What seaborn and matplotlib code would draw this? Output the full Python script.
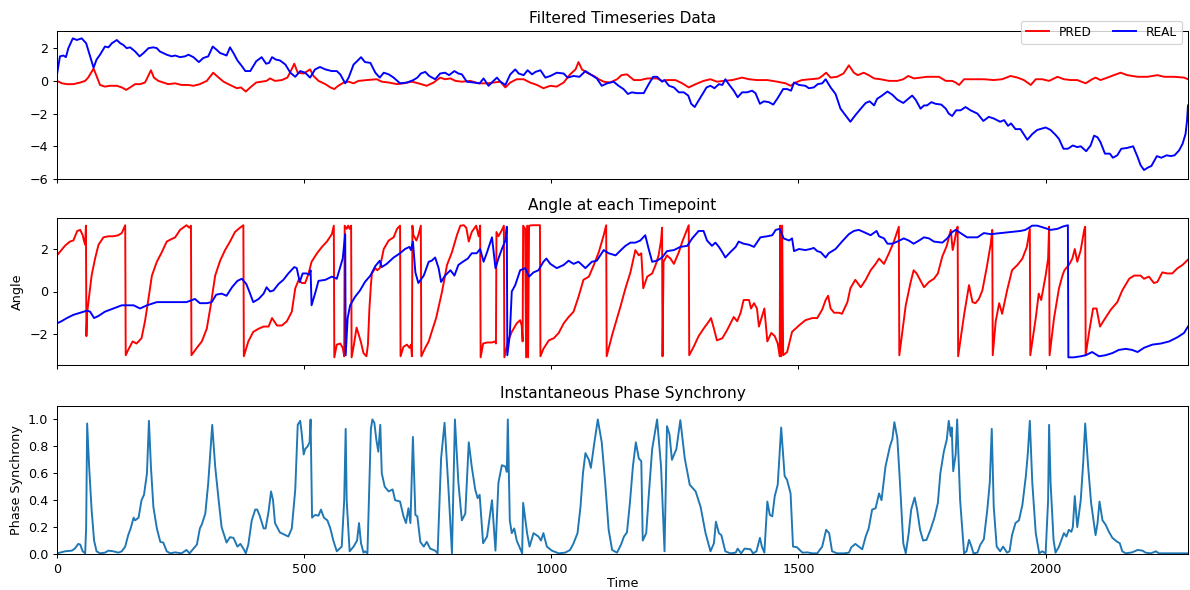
import matplotlib
matplotlib.use("Agg")
import matplotlib.pyplot as plt
import seaborn as sns
import pandas as pd

# (time, value) samples of each series
pred_filtered = [
    (0, 0.0), (10, -0.15), (20, -0.2), (33, -0.2), (47, -0.1), (57, 0.0), (63, 0.2), (74, 0.75), (80, 0.3),
    (87, -0.25), (97, -0.35), (107, -0.3), (121, -0.3), (131, -0.4), (140, -0.55), (148, -0.4), (158, -0.2),
    (168, -0.2), (178, -0.1), (183, 0.2), (190, 0.65), (196, 0.2), (205, 0.0), (215, -0.1), (225, -0.2),
    (239, -0.15), (252, -0.25), (266, -0.25), (276, -0.3), (289, -0.2), (303, 0.0), (316, 0.5), (327, 0.2),
    (337, -0.05), (350, -0.25), (364, -0.45), (372, -0.4), (382, -0.65), (391, -0.4), (403, -0.1), (414, -0.05),
    (424, 0.0), (431, 0.15), (441, 0.0), (455, 0.05), (466, 0.2), (473, 0.6), (480, 1.05), (487, 0.5),
    (499, 0.45), (512, 0.7), (519, 0.3), (529, 0.0), (543, -0.2), (553, -0.4), (561, -0.5), (569, -0.3),
    (580, -0.1), (590, -0.05), (600, -0.15), (610, 0.0), (627, 0.05), (647, 0.1), (657, -0.05), (671, -0.1),
    (688, -0.2), (701, -0.15), (718, -0.05), (731, -0.15), (748, -0.3), (762, -0.1), (775, 0.2), (785, 0.1),
    (796, 0.15), (806, 0.0), (819, -0.05), (836, 0.0), (853, -0.15), (870, -0.15), (883, -0.1), (897, -0.05),
    (907, -0.4), (917, -0.1), (930, 0.1), (944, 0.1), (957, -0.1), (971, -0.25), (984, -0.45), (998, -0.3),
    (1011, -0.35), (1025, -0.1), (1038, 0.4), (1049, 0.7), (1055, 1.15), (1062, 0.7), (1072, 0.5), (1086, 0.3),
    (1096, 0.1), (1106, -0.05), (1119, -0.1), (1133, 0.1), (1142, 0.35), (1153, 0.4), (1167, 0.05), (1180, 0.05),
    (1194, 0.15), (1214, 0.15), (1224, 0.0), (1234, 0.05), (1251, 0.05), (1265, -0.15), (1278, -0.4), (1292, -0.2),
    (1308, 0.0), (1322, 0.1), (1335, -0.05), (1349, 0.0), (1366, 0.05), (1386, 0.2), (1400, 0.1), (1416, 0.05),
    (1437, 0.05), (1457, -0.05), (1474, -0.15), (1484, -0.3), (1494, -0.1), (1507, 0.05), (1524, 0.1), (1541, 0.15),
    (1548, 0.3), (1556, 0.5), (1565, 0.2), (1578, 0.25), (1591, 0.45), (1602, 0.95), (1612, 0.5), (1620, 0.35),
    (1632, 0.5), (1642, 0.35), (1653, 0.15), (1666, 0.1), (1683, 0.0), (1700, 0.0), (1712, 0.1), (1722, 0.3),
    (1734, 0.15), (1747, 0.2), (1760, 0.25), (1784, 0.25), (1798, 0.0), (1811, 0.0), (1818, -0.1), (1825, -0.25),
    (1835, 0.1), (1855, 0.1), (1875, 0.1), (1895, 0.05), (1912, 0.1), (1929, 0.3), (1943, 0.2), (1956, 0.05),
    (1970, -0.25), (1980, 0.1), (1993, 0.1), (2007, 0.0), (2024, 0.25), (2037, 0.1), (2051, 0.05), (2064, 0.05),
    (2081, -0.15), (2094, 0.1), (2101, 0.2), (2111, 0.05), (2125, 0.2), (2138, 0.35), (2152, 0.5), (2165, 0.35),
    (2186, 0.25), (2206, 0.25), (2226, 0.35), (2240, 0.25), (2260, 0.25), (2280, 0.2), (2288, 0.1),
]

real_filtered = [
    (0, 0.4), (6, 1.5), (13, 1.55), (18, 1.45), (23, 2.0), (32, 2.6), (40, 2.5), (50, 2.6), (59, 2.3), (67, 1.5),
    (74, 0.8), (80, 1.3), (87, 1.6), (97, 2.1), (104, 2.05), (111, 2.3), (121, 2.5), (128, 2.3), (134, 2.2),
    (141, 2.0), (148, 2.05), (158, 1.8), (167, 1.5), (175, 1.7), (185, 2.0), (195, 2.05), (202, 2.0), (208, 1.8),
    (222, 1.6), (232, 1.5), (239, 1.55), (249, 1.45), (259, 1.5), (266, 1.6), (276, 1.45), (287, 1.15), (296, 1.4),
    (306, 1.5), (315, 2.1), (323, 1.9), (330, 1.7), (335, 1.65), (343, 1.55), (350, 2.05), (357, 1.7), (365, 1.25),
    (374, 0.9), (381, 0.6), (391, 0.6), (403, 1.2), (414, 1.45), (423, 1.05), (429, 1.1), (435, 1.45), (443, 1.3),
    (451, 1.25), (462, 1.0), (472, 0.5), (482, 0.25), (492, 0.6), (502, 0.5), (512, 0.2), (522, 0.7), (532, 0.85),
    (543, 0.7), (556, 0.6), (566, 0.6), (573, 0.4), (583, -0.15), (590, 0.2), (600, 1.0), (607, 1.2), (615, 1.45),
    (623, 1.15), (634, 1.1), (644, 0.5), (653, 0.2), (661, 0.5), (671, 0.4), (681, 0.2), (694, -0.15), (708, -0.1),
    (721, 0.05), (729, 0.2), (736, 0.45), (745, 0.55), (753, 0.3), (765, 0.1), (775, 0.45), (785, 0.5), (793, 0.35),
    (804, 0.6), (812, 0.45), (819, 0.4), (829, -0.05), (843, -0.1), (855, -0.15), (863, 0.15), (873, -0.3),
    (883, 0.0), (890, 0.2), (897, -0.05), (907, -0.25), (917, 0.4), (927, 0.7), (934, 0.45), (944, 0.35),
    (952, 0.65), (961, 0.4), (968, 0.55), (978, 0.65), (988, 0.2), (998, 0.3), (1011, 0.5), (1025, 0.45),
    (1033, 0.2), (1045, 0.3), (1057, 0.25), (1069, 0.6), (1079, 0.4), (1092, 0.15), (1102, -0.3), (1113, -0.15),
    (1126, -0.05), (1136, -0.3), (1146, -0.5), (1155, -0.8), (1163, -0.7), (1173, -0.75), (1187, -0.75),
    (1197, -0.2), (1206, 0.25), (1214, 0.25), (1224, -0.05), (1229, 0.05), (1238, -0.3), (1248, -0.4),
    (1258, -0.7), (1268, -0.7), (1277, -0.9), (1283, -1.4), (1290, -1.6), (1302, -1.0), (1314, -0.4),
    (1322, -0.3), (1330, -0.45), (1339, -0.2), (1346, -0.25), (1352, 0.1), (1359, -0.2), (1369, -0.6),
    (1377, -1.0), (1386, -0.7), (1396, -0.7), (1406, -0.6), (1413, -0.75), (1422, -1.4), (1430, -1.25),
    (1440, -1.3), (1449, -1.45), (1458, -1.05), (1469, -0.5), (1477, -0.5), (1485, -0.6), (1491, -0.1),
    (1501, -0.25), (1514, -0.3), (1521, -0.45), (1531, -0.4), (1539, -0.2), (1548, -0.15), (1555, 0.1),
    (1565, -0.4), (1575, -0.8), (1585, -1.7), (1595, -2.1), (1605, -2.5), (1615, -2.1), (1626, -1.7),
    (1636, -1.35), (1644, -1.25), (1653, -1.5), (1659, -1.1), (1669, -0.9), (1680, -0.65), (1690, -0.85),
    (1700, -1.15), (1712, -1.35), (1720, -1.15), (1730, -0.9), (1737, -1.15), (1747, -1.7), (1754, -1.5),
    (1760, -1.5), (1769, -1.3), (1777, -1.4), (1789, -1.45), (1798, -1.7), (1804, -2.0), (1811, -2.15),
    (1819, -1.8), (1828, -1.8), (1838, -1.6), (1848, -1.8), (1862, -2.0), (1874, -2.45), (1885, -2.2),
    (1895, -2.3), (1908, -2.5), (1916, -2.4), (1924, -2.75), (1930, -2.6), (1939, -2.95), (1949, -2.95),
    (1963, -3.6), (1973, -3.25), (1983, -3.0), (2000, -2.85), (2010, -3.0), (2020, -3.3), (2027, -3.55),
    (2036, -4.15), (2045, -4.15), (2055, -3.95), (2064, -4.05), (2071, -4.0), (2082, -4.3), (2091, -3.95),
    (2098, -3.35), (2105, -3.45), (2111, -3.75), (2120, -4.45), (2130, -4.45), (2136, -4.7), (2145, -4.55),
    (2153, -4.15), (2165, -4.1), (2177, -4.0), (2186, -4.65), (2192, -5.15), (2199, -5.45), (2207, -5.3),
    (2214, -5.2), (2225, -4.6), (2234, -4.7), (2245, -4.55), (2253, -4.6), (2261, -4.55), (2270, -4.25),
    (2277, -3.85), (2283, -3.25), (2286, -2.45), (2288, -1.5),
]

pred_angle = [
    (0, 1.7), (9, 1.95), (16, 2.15), (26, 2.35), (33, 2.4), (41, 2.85), (47, 2.9), (52, 2.65), (55, 2.35),
    (57, 2.2), (58.5, 3.1), (59.5, -2.1), (61, -1.0), (70, 0.75), (77, 1.55), (84, 2.2), (94, 2.55), (104, 2.6),
    (114, 2.6), (124, 2.65), (131, 2.75), (138, 3.12), (139, -3.0), (144, -2.75), (153, -2.35), (161, -2.45),
    (171, -2.2), (178, -1.4), (185, -0.35), (192, 0.75), (202, 1.4), (212, 1.85), (222, 2.35), (230, 2.45),
    (239, 2.55), (249, 2.9), (262, 3.12), (268, 3.0), (271, 3.1), (272, -3.0), (283, -2.65), (293, -2.35),
    (303, -1.75), (311, -0.65), (320, 0.75), (330, 1.45), (340, 1.95), (350, 2.35), (360, 2.8), (370, 3.0),
    (377, 3.12), (378, -3.05), (387, -2.35), (397, -1.9), (408, -1.75), (418, -1.65), (428, -1.65), (435, -1.25),
    (445, -1.6), (455, -1.6), (465, -1.4), (475, -0.95), (482, 0.15), (489, 0.55), (495, 0.4), (502, 0.4),
    (509, 0.85), (515, 1.4), (526, 1.8), (536, 2.1), (546, 2.35), (556, 2.7), (560, 3.1), (561, -3.1),
    (566, -2.5), (573, -2.45), (578, -2.65), (581, -3.05), (582, 3.1), (586, 2.95), (589, 3.1), (592, 2.95),
    (595, 3.1), (596, -3.1), (600, -2.6), (606, -1.7), (610, -2.0), (615, -2.4), (620, -2.9), (626, -3.05),
    (629, -2.5), (632, -0.8), (635, 0.3), (637, 0.85), (644, 1.1), (648, 1.0), (653, 1.1), (661, 2.0),
    (671, 2.4), (681, 2.55), (688, 2.95), (694, 3.1), (695, -3.05), (701, -2.6), (708, -2.5), (713, -2.65),
    (716, -2.5), (718, -3.05), (719, 3.1), (721, 2.65), (727, 2.4), (731, 2.65), (736, 3.1), (737, -3.05),
    (745, -2.65), (752, -2.35), (758, -1.9), (767, -1.25), (779, 0.0), (789, 1.25), (799, 1.85), (809, 2.65),
    (816, 3.1), (823, 3.12), (828, 3.0), (833, 2.35), (839, 2.8), (848, 3.1), (853, 2.6), (856, 3.1),
    (857, -3.1), (862, -2.45), (870, -2.4), (880, -2.4), (886, -2.35), (888, -2.45), (889, 2.8), (893, 2.6),
    (899, 2.85), (904, 3.1), (905, -3.1), (913, -2.3), (920, -1.9), (930, -1.5), (937, -1.35), (940, -1.6),
    (942, -2.35), (943, 3.1), (947, 2.95), (949, -3.1), (951, 3.1), (953, -3.1), (955, 3.1), (962, 3.12),
    (970, 3.12), (977, 3.12), (978, -3.05), (984, -2.7), (995, -2.3), (1005, -2.2), (1015, -1.95),
    (1025, -1.5), (1035, -1.2), (1045, -0.95), (1055, -0.25), (1065, 0.55), (1076, 0.7), (1086, 1.25),
    (1096, 1.85), (1106, 2.65), (1111, 3.12), (1112, -3.05), (1123, -2.05), (1133, -1.25), (1140, -0.7),
    (1150, 0.15), (1160, 0.9), (1170, 1.95), (1177, 1.7), (1182, 1.8), (1186, 0.15), (1194, 0.7), (1204, 0.85),
    (1211, 1.25), (1217, 1.7), (1222, 2.4), (1224, 3.0), (1225, -3.05), (1227, 1.4), (1234, 1.7), (1241, 1.55),
    (1248, 1.3), (1258, 1.85), (1265, 2.35), (1271, 2.7), (1278, 3.12), (1279, -3.0), (1288, -2.6),
    (1298, -2.1), (1308, -1.75), (1319, -1.4), (1323, -1.25), (1329, -1.75), (1335, -2.3), (1346, -2.2),
    (1356, -1.8), (1369, -1.2), (1376, -1.4), (1383, -1.0), (1389, -0.4), (1400, -0.4), (1404, -0.8),
    (1410, -0.55), (1416, -0.8), (1420, -1.65), (1427, -1.1), (1431, -0.8), (1437, -2.35), (1445, -1.95),
    (1452, -2.1), (1458, -2.45), (1462, -3.05), (1463, 3.1), (1465, -3.05), (1467, 3.1), (1469, -3.0),
    (1477, -2.85), (1487, -1.9), (1501, -1.6), (1514, -1.35), (1528, -1.25), (1538, -1.25), (1548, -0.85),
    (1555, -0.4), (1560, -0.2), (1565, -0.8), (1572, -1.0), (1582, -1.0), (1588, -1.05), (1599, -0.5),
    (1605, 0.15), (1615, 0.55), (1626, 0.2), (1636, 0.55), (1646, 1.0), (1656, 1.3), (1663, 1.55), (1673, 1.3),
    (1683, 1.8), (1693, 2.35), (1703, 3.05), (1704, -3.0), (1710, -1.9), (1717, -0.65), (1727, 0.45),
    (1733, 1.0), (1739, 0.85), (1746, 0.55), (1754, 0.2), (1764, 0.45), (1774, 0.6), (1782, 0.85), (1791, 1.65),
    (1800, 2.15), (1808, 2.9), (1812, 1.95), (1816, 2.4), (1820, 2.95), (1822, 3.05), (1823, -3.05),
    (1835, -1.1), (1845, 0.3), (1852, -0.5), (1858, -0.55), (1865, -0.35), (1872, 0.05), (1881, 1.15),
    (1889, 2.25), (1892, 2.9), (1893, -3.0), (1899, -1.4), (1906, -0.55), (1912, -1.05), (1922, 0.05),
    (1932, 1.0), (1943, 1.25), (1953, 1.55), (1962, 2.1), (1968, 2.95), (1969, -3.0), (1980, -1.25),
    (1986, -0.1), (1991, -0.4), (2000, 0.75), (2005, 1.55), (2007, 3.05), (2008, -3.0), (2017, -1.25),
    (2027, 0.15), (2034, 0.75), (2038, 1.0), (2047, 1.25), (2054, 1.55), (2059, 2.0), (2064, 1.4), (2071, 1.95),
    (2078, 2.9), (2080, 3.05), (2081, -3.0), (2088, -1.9), (2096, -0.8), (2103, -0.8), (2110, -1.65),
    (2118, -1.35), (2132, -0.85), (2145, -0.5), (2155, 0.05), (2169, 0.6), (2179, 0.75), (2192, 0.75),
    (2199, 0.6), (2209, 0.7), (2219, 0.4), (2226, 0.45), (2236, 0.9), (2246, 0.85), (2256, 0.85), (2267, 1.1),
    (2277, 1.25), (2288, 1.5),
]

real_angle = [
    (0, -1.5), (9, -1.4), (20, -1.25), (33, -1.1), (47, -1.0), (61, -0.9), (67, -0.95), (75, -1.25), (84, -1.15),
    (97, -0.95), (114, -0.8), (131, -0.65), (141, -0.65), (155, -0.65), (168, -0.8), (182, -0.65), (202, -0.5),
    (222, -0.5), (242, -0.5), (262, -0.5), (279, -0.35), (289, -0.55), (303, -0.55), (313, -0.5), (322, -0.15),
    (333, -0.1), (343, -0.2), (354, 0.2), (365, 0.5), (374, 0.6), (383, 0.35), (389, 0.0), (397, -0.5),
    (408, -0.35), (418, -0.1), (424, 0.2), (431, 0.0), (438, 0.05), (448, 0.35), (458, 0.55), (468, 0.85),
    (480, 1.15), (485, 1.1), (491, 0.45), (497, 0.85), (505, 0.85), (511, 0.8), (513, 1.0), (515, -0.65),
    (522, -0.1), (529, 0.5), (543, 0.55), (556, 0.7), (566, 0.6), (571, 1.0), (578, 1.55), (583, 2.7),
    (584, -3.0), (588, -1.25), (593, -0.65), (603, -0.25), (613, 0.05), (623, 0.45), (634, 0.75), (644, 1.2),
    (653, 1.45), (657, 1.15), (667, 1.3), (681, 1.6), (694, 1.8), (704, 2.0), (713, 2.1), (716, 1.95),
    (720, 2.35), (725, 0.9), (731, 0.4), (742, 0.75), (752, 1.4), (758, 1.45), (765, 1.6), (772, 1.1),
    (777, 0.45), (785, 0.75), (796, 1.0), (804, 0.75), (812, 1.25), (821, 1.4), (831, 1.55), (839, 1.8),
    (849, 1.8), (856, 2.0), (863, 1.4), (870, 1.85), (880, 2.55), (887, 1.1), (893, 1.55), (900, 2.0),
    (907, 2.4), (910, 3.05), (911, -3.0), (916, -2.05), (920, 0.0), (927, 0.3), (937, 1.0), (947, 1.1),
    (955, 0.7), (964, 0.9), (974, 1.0), (984, 1.4), (990, 1.55), (998, 1.3), (1011, 1.1), (1025, 1.25),
    (1035, 1.45), (1045, 1.3), (1055, 1.4), (1069, 1.1), (1082, 1.4), (1092, 1.45), (1106, 1.95), (1116, 1.8),
    (1130, 1.7), (1143, 2.0), (1150, 2.15), (1160, 2.3), (1170, 2.3), (1180, 2.4), (1190, 2.65), (1197, 2.0),
    (1204, 1.4), (1214, 1.45), (1224, 1.6), (1234, 1.9), (1248, 1.95), (1261, 2.1), (1275, 2.15), (1285, 2.5),
    (1298, 2.85), (1308, 2.85), (1315, 2.4), (1325, 2.15), (1332, 2.3), (1339, 2.1), (1346, 1.85), (1352, 1.6),
    (1362, 1.85), (1373, 2.1), (1379, 2.35), (1389, 2.25), (1400, 2.2), (1410, 2.1), (1423, 2.55), (1437, 2.6),
    (1447, 2.65), (1454, 2.9), (1462, 2.95), (1470, 2.5), (1481, 2.4), (1487, 2.5), (1491, 1.9), (1501, 2.0),
    (1514, 1.95), (1524, 2.0), (1531, 2.05), (1538, 1.9), (1545, 1.85), (1555, 1.6), (1561, 1.8), (1575, 2.0),
    (1588, 2.35), (1602, 2.7), (1612, 2.85), (1622, 2.9), (1632, 2.8), (1646, 2.65), (1658, 2.85), (1663, 2.6),
    (1673, 2.5), (1680, 2.25), (1690, 2.25), (1700, 2.35), (1713, 2.5), (1723, 2.4), (1733, 2.25), (1744, 2.4),
    (1754, 2.55), (1764, 2.5), (1774, 2.35), (1791, 2.3), (1801, 2.5), (1811, 2.8), (1818, 2.9), (1828, 2.75),
    (1841, 2.55), (1862, 2.55), (1875, 2.75), (1889, 2.7), (1909, 2.75), (1929, 2.8), (1949, 2.85), (1959, 2.9),
    (1973, 3.1), (1983, 3.1), (1997, 3.0), (2010, 2.9), (2024, 2.95), (2034, 3.05), (2045, 3.12), (2046, -3.1),
    (2057, -3.1), (2071, -3.05), (2081, -3.0), (2094, -2.85), (2108, -3.05), (2121, -3.0), (2135, -2.9),
    (2148, -2.75), (2162, -2.7), (2175, -2.75), (2186, -2.85), (2199, -2.65), (2216, -2.5), (2233, -2.45),
    (2250, -2.35), (2267, -2.15), (2280, -1.95), (2288, -1.65),
]

phase_synchrony = [
    (0, 0.005), (6, 0.01), (16, 0.02), (30, 0.025), (36, 0.04), (43, 0.075), (47, 0.07), (52, 0.02), (57, 0.005),
    (59, 0.2), (61, 0.97), (65, 0.65), (70, 0.33), (75, 0.1), (80, 0.02), (87, 0.005), (97, 0.01), (104, 0.025),
    (114, 0.02), (124, 0.01), (131, 0.02), (138, 0.055), (144, 0.14), (149, 0.19), (155, 0.27), (158, 0.25),
    (165, 0.27), (171, 0.4), (176, 0.44), (182, 0.6), (186, 0.99), (190, 0.65), (195, 0.35), (202, 0.19),
    (209, 0.09), (215, 0.085), (222, 0.02), (229, 0.005), (239, 0.012), (252, 0.005), (262, 0.03), (268, 0.005),
    (275, 0.035), (283, 0.07), (289, 0.19), (293, 0.22), (300, 0.3), (306, 0.53), (314, 0.96), (320, 0.65),
    (327, 0.4), (333, 0.2), (343, 0.085), (350, 0.125), (357, 0.12), (365, 0.055), (371, 0.075), (377, 0.04),
    (382, 0.005), (387, 0.07), (394, 0.25), (401, 0.33), (405, 0.33), (410, 0.285), (418, 0.19), (422, 0.19),
    (428, 0.315), (433, 0.465), (437, 0.4), (441, 0.23), (451, 0.16), (462, 0.14), (468, 0.13), (475, 0.19),
    (482, 0.48), (487, 0.96), (492, 0.99), (495, 0.9), (499, 0.74), (502, 0.78), (507, 0.8), (511, 0.83),
    (513, 1.0), (516, 0.27), (522, 0.29), (529, 0.285), (534, 0.33), (540, 0.27), (547, 0.25), (553, 0.19),
    (559, 0.1), (566, 0.02), (576, 0.055), (581, 0.4), (584, 0.93), (586, 0.4), (592, 0.02), (600, 0.055),
    (607, 0.1), (611, 0.23), (615, 0.08), (620, 0.01), (623, 0.02), (628, 0.005), (632, 0.53), (635, 0.93),
    (638, 1.0), (642, 0.975), (646, 0.85), (650, 0.76), (654, 0.96), (657, 0.6), (663, 0.5), (671, 0.465),
    (679, 0.48), (684, 0.4), (694, 0.39), (701, 0.28), (706, 0.23), (711, 0.34), (715, 0.23), (720, 0.87),
    (725, 0.29), (729, 0.28), (735, 0.09), (742, 0.055), (748, 0.09), (755, 0.04), (765, 0.025), (770, 0.005),
    (777, 0.71), (784, 0.975), (792, 0.48), (799, 0.005), (805, 1.0), (812, 0.53), (819, 0.25), (826, 0.3),
    (833, 0.83), (839, 0.65), (846, 0.48), (851, 0.415), (855, 0.44), (862, 0.08), (870, 0.13), (880, 0.4),
    (887, 0.025), (893, 0.53), (900, 0.66), (907, 0.65), (910, 0.61), (912, 1.0), (916, 0.25), (920, 0.155),
    (925, 0.19), (930, 0.1), (937, 0.04), (941, 0.005), (943, 0.38), (951, 0.155), (956, 0.055), (964, 0.155),
    (974, 0.13), (979, 0.1), (984, 0.155), (991, 0.055), (1001, 0.025), (1015, 0.005), (1028, 0.01),
    (1038, 0.03), (1045, 0.08), (1053, 0.155), (1059, 0.35), (1064, 0.6), (1069, 0.75), (1076, 0.7),
    (1080, 0.64), (1086, 0.8), (1094, 1.0), (1102, 0.83), (1109, 0.53), (1116, 0.18), (1123, 0.03),
    (1133, 0.01), (1141, 0.07), (1147, 0.13), (1153, 0.16), (1159, 0.38), (1165, 0.65), (1171, 0.83),
    (1177, 0.71), (1182, 0.69), (1185, 0.1), (1192, 0.155), (1197, 0.43), (1204, 0.78), (1214, 1.0),
    (1222, 0.65), (1229, 0.02), (1234, 0.95), (1239, 0.89), (1244, 0.7), (1253, 0.78), (1261, 0.995),
    (1270, 0.71), (1280, 0.515), (1292, 0.465), (1302, 0.35), (1312, 0.155), (1322, 0.02), (1329, 0.08),
    (1333, 0.24), (1339, 0.155), (1344, 0.14), (1352, 0.02), (1362, 0.005), (1373, 0.01), (1377, 0.04),
    (1384, 0.005), (1391, 0.04), (1403, 0.035), (1408, 0.005), (1415, 0.02), (1422, 0.12), (1426, 0.055),
    (1431, 0.01), (1437, 0.39), (1442, 0.29), (1447, 0.28), (1452, 0.43), (1458, 0.515), (1465, 0.94),
    (1472, 0.58), (1477, 0.55), (1484, 0.45), (1489, 0.055), (1497, 0.05), (1508, 0.01), (1518, 0.012),
    (1528, 0.005), (1538, 0.005), (1548, 0.055), (1556, 0.18), (1562, 0.155), (1568, 0.02), (1578, 0.005),
    (1592, 0.005), (1602, 0.01), (1607, 0.05), (1615, 0.075), (1622, 0.055), (1629, 0.035), (1636, 0.13),
    (1642, 0.19), (1649, 0.33), (1656, 0.34), (1663, 0.45), (1668, 0.4), (1676, 0.65), (1685, 0.8),
    (1690, 0.855), (1694, 0.98), (1700, 0.86), (1705, 0.55), (1712, 0.08), (1717, 0.005), (1723, 0.155),
    (1728, 0.33), (1735, 0.42), (1740, 0.33), (1746, 0.18), (1752, 0.1), (1759, 0.105), (1767, 0.18),
    (1775, 0.27), (1782, 0.38), (1787, 0.6), (1794, 0.76), (1800, 0.85), (1804, 0.99), (1808, 0.875),
    (1810, 0.94), (1813, 0.615), (1818, 0.74), (1821, 1.0), (1827, 0.4), (1835, 0.005), (1840, 0.02),
    (1845, 0.105), (1850, 0.055), (1854, 0.005), (1862, 0.01), (1868, 0.07), (1875, 0.11), (1882, 0.33),
    (1887, 0.53), (1891, 0.93), (1895, 0.35), (1901, 0.055), (1908, 0.02), (1914, 0.055), (1922, 0.01),
    (1927, 0.02), (1932, 0.14), (1939, 0.23), (1946, 0.25), (1953, 0.365), (1960, 0.58), (1964, 0.75),
    (1968, 0.99), (1973, 0.53), (1980, 0.155), (1987, 0.005), (1993, 0.02), (2000, 0.005), (2005, 0.4),
    (2007, 0.96), (2010, 0.53), (2016, 0.105), (2020, 0.01), (2027, 0.055), (2037, 0.155), (2042, 0.13),
    (2047, 0.18), (2052, 0.165), (2055, 0.2), (2059, 0.43), (2064, 0.2), (2071, 0.4), (2076, 0.68),
    (2080, 0.97), (2086, 0.65), (2092, 0.38), (2101, 0.14), (2105, 0.23), (2109, 0.39), (2115, 0.25),
    (2121, 0.22), (2128, 0.165), (2135, 0.12), (2145, 0.09), (2150, 0.08), (2155, 0.02), (2162, 0.005),
    (2175, 0.012), (2186, 0.03), (2196, 0.025), (2202, 0.01), (2213, 0.005), (2223, 0.02), (2229, 0.005),
    (2260, 0.005), (2288, 0.005),
]

x_max = 2288
titles = ["Filtered Timeseries Data", "Angle at each Timepoint", "Instantaneous Phase Synchrony"]


def frame(pairs):
    return pd.DataFrame(pairs, columns=["Time", "value"])


def draw(ax, pairs, color, label=None):
    sns.lineplot(data=frame(pairs), x="Time", y="value", ax=ax, color=color, label=label,
                 sort=False, estimator=None, linewidth=1.5, legend=label is not None)


W, H, DPI = 1190, 590, 92
fig = plt.figure(figsize=(W / DPI, H / DPI), dpi=DPI)
left, width = 57 / W, 1131 / W
ax1 = fig.add_axes([left, 1 - 179 / H, width, 148 / H])
ax2 = fig.add_axes([left, 1 - 365 / H, width, 147 / H], sharex=ax1)
ax3 = fig.add_axes([left, 1 - 554 / H, width, 148 / H], sharex=ax1)

draw(ax1, pred_filtered, "r", "PRED")
draw(ax1, real_filtered, "b", "REAL")
ax1.set_ylim(-6.0, 3.05)
ax1.set_yticks([-6, -4, -2, 0, 2])
ax1.legend(loc="upper right", bbox_to_anchor=(1.0, 1.11), ncol=2, fontsize=9.5,
           handlelength=1.9, columnspacing=1.8)
ax1.set_ylabel("")

draw(ax2, pred_angle, "r")
draw(ax2, real_angle, "b")
ax2.set_ylim(-3.46, 3.46)
ax2.set_yticks([-2, 0, 2])
ax2.set_ylabel("Angle")

draw(ax3, phase_synchrony, "#1f77b4")
ax3.set_ylim(0, 1.1)
ax3.set_yticks([0.0, 0.2, 0.4, 0.6, 0.8, 1.0])
ax3.set_ylabel("Phase Synchrony")
ax3.set_xlabel("Time", labelpad=1)

for ax, title in zip((ax1, ax2, ax3), titles):
    ax.set_title(title, fontsize=12)
    ax.set_xlim(0, x_max)
    ax.set_xticks([0, 500, 1000, 1500, 2000])
for ax in (ax1, ax2):
    ax.tick_params(labelbottom=False)
    ax.set_xlabel("")

fig.savefig("out.png", dpi=DPI)
